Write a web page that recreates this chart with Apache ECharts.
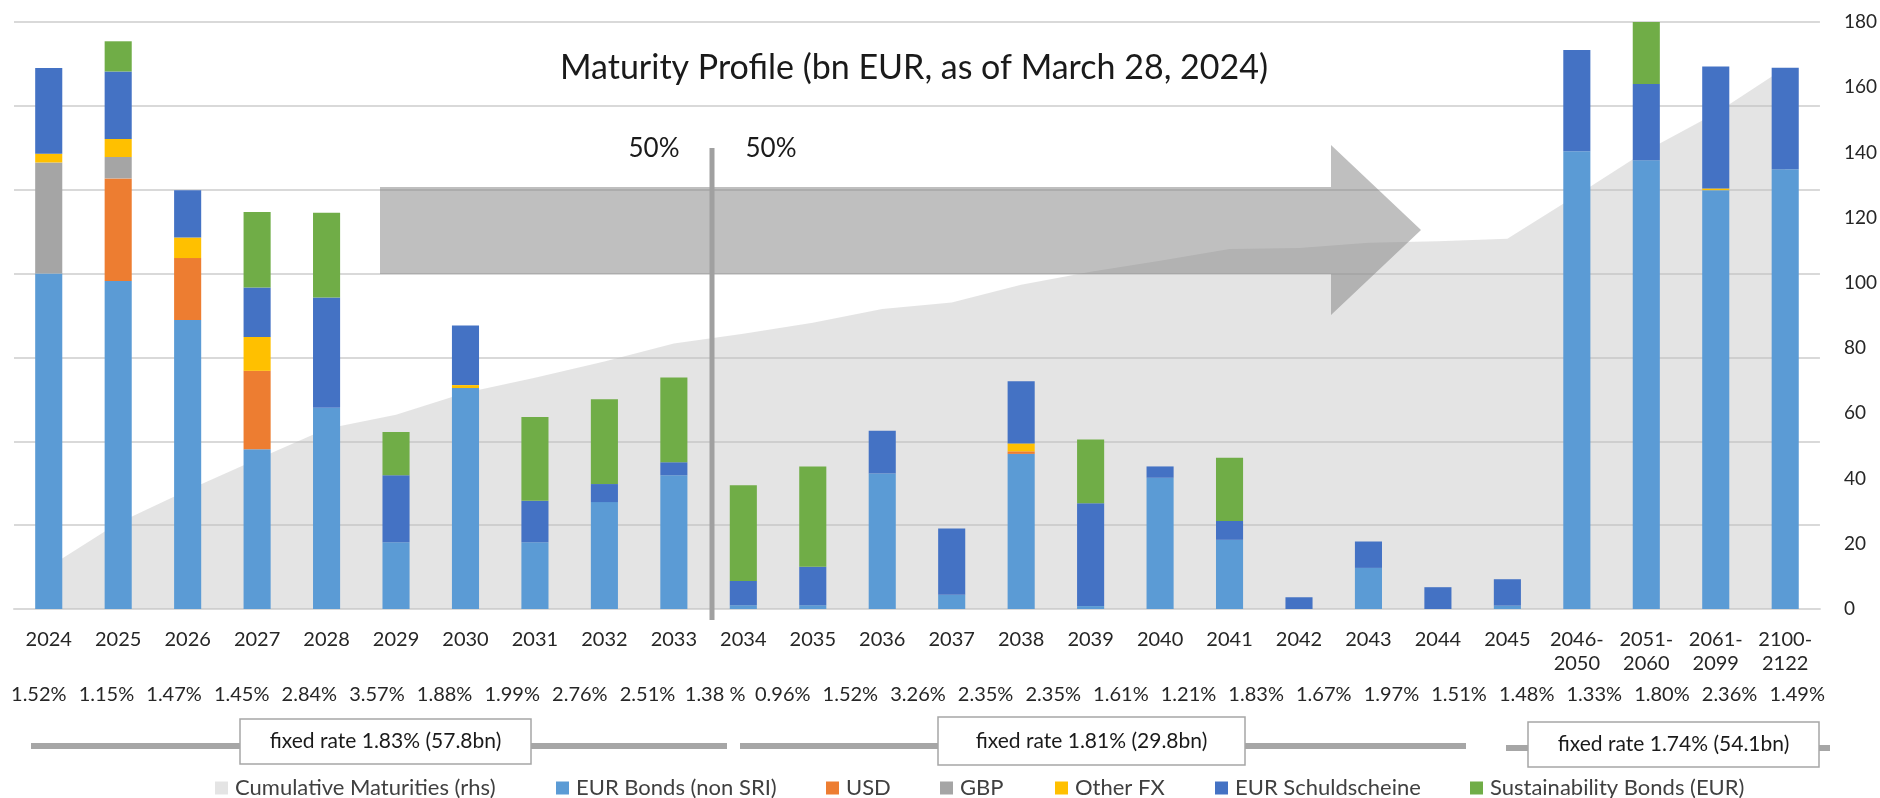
<!DOCTYPE html>
<html>
<head>
<meta charset="utf-8">
<script src="https://cdn.jsdelivr.net/npm/echarts@6/dist/echarts.min.js"></script>
<style>
  html, body { margin: 0; padding: 0; background: #fff; }
  #chart { width: 1880px; height: 798px; }
</style>
</head>
<body>
<div id="chart"></div>
<script>
// categories (x axis)
const categories = ['2024', '2025', '2026', '2027', '2028', '2029', '2030', '2031', '2032', '2033',
  '2034', '2035', '2036', '2037', '2038', '2039', '2040', '2041', '2042', '2043', '2044', '2045',
  '2046-\n2050', '2051-\n2060', '2061-\n2099', '2100-\n2122'];

// coupon row under the axis
const rates = ['1.52%', '1.15%', '1.47%', '1.45%', '2.84%', '3.57%', '1.88%', '1.99%', '2.76%', '2.51%',
  '1.38 %', '0.96%', '1.52%', '3.26%', '2.35%', '2.35%', '1.61%', '1.21%', '1.83%', '1.67%',
  '1.97%', '1.51%', '1.48%', '1.33%', '1.80%', '2.36%', '1.49%'];

// bars (bn EUR)
const eurBonds = [8.0, 7.82, 6.89, 3.81, 4.80, 1.59, 5.27, 1.59, 2.55, 3.19, 0.09, 0.09, 3.23, 0.34, 3.70, 0.07, 3.13, 1.65, 0, 0.98, 0, 0.08, 10.92, 10.70, 9.99, 10.49];
const usd      = [0, 2.45, 1.48, 1.87, 0, 0, 0, 0, 0, 0, 0, 0, 0, 0, 0.06, 0, 0, 0, 0, 0, 0, 0, 0, 0, 0, 0];
const gbp      = [2.65, 0.51, 0, 0, 0, 0, 0, 0, 0, 0, 0, 0, 0, 0, 0, 0, 0, 0, 0, 0, 0, 0, 0, 0, 0, 0];
const otherFx  = [0.21, 0.43, 0.49, 0.81, 0, 0, 0.07, 0, 0, 0, 0, 0, 0, 0, 0.19, 0, 0, 0, 0, 0, 0, 0, 0, 0, 0.04, 0];
const schuld   = [2.04, 1.61, 1.13, 1.18, 2.63, 1.60, 1.42, 0.99, 0.43, 0.31, 0.58, 0.92, 1.02, 1.58, 1.48, 2.45, 0.27, 0.45, 0.28, 0.63, 0.52, 0.63, 2.41, 1.82, 2.91, 2.42];
const sust     = [0, 0.72, 0, 1.80, 2.02, 1.03, 0, 2.0, 2.02, 2.02, 2.28, 2.39, 0, 0, 0, 1.52, 0, 1.51, 0, 0, 0, 0, 0, 1.48, 0, 0];

// cumulative maturities, right axis
const cumulative = [12.9, 26.4, 36.4, 45.9, 55.3, 59.6, 66.3, 70.9, 75.9, 81.4, 84.4, 87.8, 92.0, 94.0,
  99.4, 103.4, 106.8, 110.4, 110.7, 112.3, 112.8, 113.5, 126.9, 140.5, 152.0, 166.0];

const FONT = 'Lato';
const TXT = '#262626';

const chart = echarts.init(document.getElementById('chart'));

const barSeries = [
  ['EUR Bonds (non SRI)', eurBonds, '#5B9BD5'],
  ['USD', usd, '#ED7D31'],
  ['GBP', gbp, '#A5A5A5'],
  ['Other FX', otherFx, '#FFC000'],
  ['EUR Schuldscheine', schuld, '#4472C4'],
  ['Sustainability Bonds (EUR)', sust, '#70AD47']
].map(([name, data, color]) => ({
  name: name,
  type: 'bar',
  stack: 'mat',
  xAxisIndex: 0,
  yAxisIndex: 0,
  barWidth: '39%',
  data: data,
  itemStyle: { color: color },
  z: 3
}));

const names = ['Cumulative Maturities (rhs)', 'EUR Bonds (non SRI)', 'USD', 'GBP', 'Other FX', 'EUR Schuldscheine', 'Sustainability Bonds (EUR)'];
const legendLeft = [215, 556, 826, 940, 1055, 1215, 1470];

// boxes under the axis
const boxes = [
  { x: 240, y: 719, w: 291, h: 45, text: 'fixed rate 1.83% (57.8bn)' },
  { x: 938, y: 717, w: 307, h: 48, text: 'fixed rate 1.81% (29.8bn)' },
  { x: 1528, y: 722, w: 291, h: 45, text: 'fixed rate 1.74% (54.1bn)' }
];
const bands = [[31, 727, 746], [740, 1466, 746], [1506, 1830, 748]];

const graphics = [
  {
    type: 'text', z: 10, x: 914, y: 68,
    style: { text: 'Maturity Profile (bn EUR, as of March 28, 2024)', fontFamily: FONT, fontSize: 34, fill: '#1a1a1a', align: 'center', verticalAlign: 'middle' }
  },
  {
    type: 'polygon', z: 5,
    shape: { points: [[380, 187], [1331, 187], [1331, 145], [1421, 230], [1331, 315], [1331, 274], [380, 274]] },
    style: { fill: 'rgba(128,128,128,0.5)' }
  },
  {
    type: 'line', z: 6,
    shape: { x1: 712, y1: 148, x2: 712, y2: 620 },
    style: { stroke: '#a0a0a0', lineWidth: 5 }
  },
  { type: 'text', z: 10, x: 654, y: 149, style: { text: '50%', fontFamily: FONT, fontSize: 26, fill: '#1a1a1a', align: 'center', verticalAlign: 'middle' } },
  { type: 'text', z: 10, x: 771, y: 149, style: { text: '50%', fontFamily: FONT, fontSize: 26, fill: '#1a1a1a', align: 'center', verticalAlign: 'middle' } }
];
bands.forEach(b => graphics.push({
  type: 'line', z: 5,
  shape: { x1: b[0], y1: b[2], x2: b[1], y2: b[2] },
  style: { stroke: '#a6a6a6', lineWidth: 6 }
}));
boxes.forEach(b => {
  graphics.push({
    type: 'rect', z: 6,
    shape: { x: b.x, y: b.y, width: b.w, height: b.h },
    style: { fill: '#fff', stroke: '#a6a6a6', lineWidth: 1.5 }
  });
  graphics.push({
    type: 'text', z: 7, x: b.x + b.w / 2, y: b.y + b.h / 2,
    style: { text: b.text, fontFamily: FONT, fontSize: 21, fill: '#1a1a1a', align: 'center', verticalAlign: 'middle' }
  });
});

const option = {
  animation: false,
  backgroundColor: '#fff',
  textStyle: { fontFamily: FONT },
  grid: [
    { left: 14, right: 59, top: 22, bottom: 189 },
    { left: 5, right: 49, top: 22, bottom: 189 }
  ],
  legend: names.map((n, i) => ({
    data: [n],
    left: legendLeft[i],
    top: 777,
    icon: 'rect',
    itemWidth: 13,
    itemHeight: 13,
    padding: 0,
    selectedMode: false,
    textStyle: { fontFamily: FONT, fontSize: 22, color: '#404040', padding: [0, 0, 0, 2] }
  })),
  xAxis: [
    {
      type: 'category', gridIndex: 0, data: categories,
      axisLine: { lineStyle: { color: '#d9d9d9', width: 2 } },
      axisTick: { show: false },
      axisLabel: { interval: 0, fontFamily: FONT, fontSize: 20, color: TXT, margin: 19, lineHeight: 24 }
    },
    {
      type: 'category', gridIndex: 1, data: rates,
      axisLine: { show: false },
      axisTick: { show: false },
      axisLabel: { interval: 0, fontFamily: FONT, fontSize: 20, color: TXT, margin: 76 }
    }
  ],
  yAxis: [
    {
      type: 'value', gridIndex: 0, min: 0, max: 14, interval: 2,
      axisLabel: { show: false },
      axisLine: { show: false },
      axisTick: { show: false },
      splitLine: { lineStyle: { color: '#d9d9d9', width: 2 } }
    },
    {
      type: 'value', gridIndex: 0, position: 'right', min: 0, max: 180, interval: 20,
      axisLine: { show: false },
      axisTick: { show: false },
      splitLine: { show: false },
      axisLabel: { fontFamily: FONT, fontSize: 19, color: TXT, margin: 24 }
    },
    {
      type: 'value', gridIndex: 1, show: false
    }
  ],
  series: [
    {
      name: 'Cumulative Maturities (rhs)',
      type: 'line',
      xAxisIndex: 0,
      yAxisIndex: 1,
      data: cumulative,
      symbol: 'none',
      lineStyle: { width: 0 },
      itemStyle: { color: '#e4e4e4' },
      areaStyle: { color: 'rgba(190,190,190,0.42)', opacity: 1 },
      z: 1
    }
  ].concat(barSeries),
  graphic: graphics
};

chart.setOption(option);
</script>
</body>
</html>
